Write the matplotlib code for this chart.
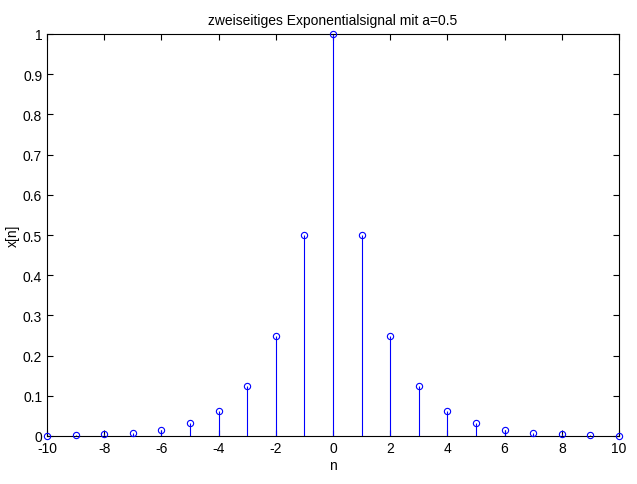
import matplotlib
matplotlib.use('Agg')
import matplotlib.pyplot as plt

plt.rcParams['font.family'] = ['Liberation Sans', 'DejaVu Sans']
plt.rcParams['axes.unicode_minus'] = False

n = [-10, -9, -8, -7, -6, -5, -4, -3, -2, -1, 0, 1, 2, 3, 4, 5, 6, 7, 8, 9, 10]
x = [0.000977, 0.00195, 0.0039, 0.0078, 0.0156, 0.03125, 0.0625, 0.125, 0.25, 0.5, 1.0,
     0.5, 0.25, 0.125, 0.0625, 0.03125, 0.0156, 0.0078, 0.0039, 0.00195, 0.000977]
xticks = [-10, -8, -6, -4, -2, 0, 2, 4, 6, 8, 10]
yticks = [0, 0.1, 0.2, 0.3, 0.4, 0.5, 0.6, 0.7, 0.8, 0.9, 1]

fig = plt.figure(figsize=(6.37, 4.85), dpi=100)
ax = fig.add_axes([47/637, 1 - 437/485, 572/637, 402/485])

markers, stems, base = ax.stem(n, x, basefmt=' ')
plt.setp(stems, color='blue', linewidth=0.8)
plt.setp(markers, color='blue', marker='o', markersize=4.5, markerfacecolor='none',
         markeredgewidth=0.8, clip_on=False, zorder=5)

ax.set_xlim(-10, 10)
ax.set_ylim(0, 1)
ax.set_xticks(xticks)
ax.set_yticks(yticks)
ax.set_yticklabels(['0', '0.1', '0.2', '0.3', '0.4', '0.5', '0.6', '0.7', '0.8', '0.9', '1'])
ax.tick_params(direction='in', top=True, right=True, labelsize=10, length=4)
ax.set_xlabel('n', fontsize=10, labelpad=2)
ax.set_ylabel('x[n]', fontsize=10, labelpad=2)
ax.set_title('zweiseitiges Exponentialsignal mit a=0.5', fontsize=10, pad=7)

fig.savefig('out.png', dpi=100)
